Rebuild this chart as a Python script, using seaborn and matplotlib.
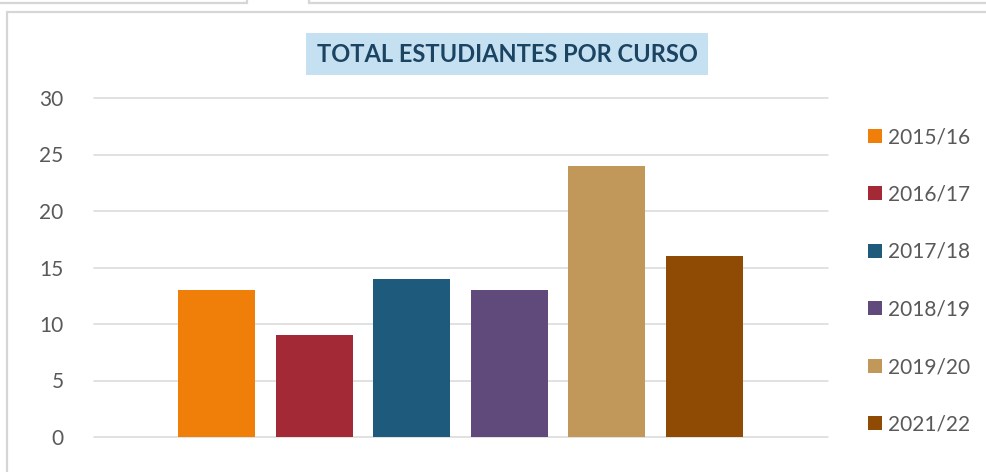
import matplotlib
matplotlib.use("Agg")
import matplotlib.pyplot as plt
from matplotlib.patches import Patch, Rectangle
from matplotlib.lines import Line2D
import seaborn as sns
import pandas as pd

# Data
courses = ["2015/16", "2016/17", "2017/18", "2018/19", "2019/20", "2021/22"]
students = [13, 9, 14, 13, 24, 16]
colors = ["#F07F09", "#A32937", "#1E5A7C", "#604A7B", "#C1975A", "#8F4B03"]
y_ticks = [0, 5, 10, 15, 20, 25, 30]
title = "TOTAL ESTUDIANTES POR CURSO"

sns.set_theme(style="white")
plt.rcParams["font.family"] = ["Lato", "DejaVu Sans"]

W, H = 986, 472
fig = plt.figure(figsize=(W / 100, H / 100), dpi=100)
fig.patch.set_facecolor("white")

def fx(px):
    return px / W

def fy(py):
    return 1 - py / H

# Window frame lines along the top and left
frame = "#D6D6D6"
for xs, ys in [
    ([0, 247], [3, 3]), ([247, 247], [0, 3]),
    ([309, 986], [3, 3]), ([309, 309], [0, 3]),
    ([6.5, 986], [12, 12]), ([6.5, 6.5], [12, 472]),
]:
    fig.add_artist(Line2D([fx(x) for x in xs], [fy(y) for y in ys],
                          color=frame, lw=1.6, transform=fig.transFigure))

ax = fig.add_axes([fx(94), fy(437), fx(828) - fx(94), fy(98) - fy(437)])

df = pd.DataFrame({"curso": courses, "estudiantes": students})
sns.barplot(data=df, x="curso", y="estudiantes", hue="curso",
            palette=colors, saturation=1, width=0.79, legend=False,
            linewidth=0, edgecolor="none", ax=ax)

ax.set_xlim(-1.255, 6.265)
ax.set_ylim(0, 30)
ax.set_yticks(y_ticks)
ax.set_yticklabels([str(t) for t in y_ticks])
ax.set_xticks([])
ax.set_xlabel("")
ax.set_ylabel("")
ax.yaxis.grid(True, color="#D9D9D9", lw=1.1)
ax.set_axisbelow(True)
for s in ax.spines.values():
    s.set_visible(False)
ax.tick_params(axis="y", length=0, pad=22, labelsize=15, labelcolor="#595959")
for gl in ax.get_ygridlines():
    gl.set_clip_on(False)

# Legend
handles = [Patch(facecolor=c, edgecolor="none") for c in colors]
leg = fig.legend(handles, courses, loc="upper left",
                 bbox_to_anchor=(fx(868), fy(127)), frameon=False,
                 fontsize=15, labelcolor="#595959",
                 handlelength=0.68, handleheight=0.68, handletextpad=0.3,
                 labelspacing=1.8, borderpad=0, borderaxespad=0)

# Title in a shaded box
fig.add_artist(Rectangle((fx(306), fy(75)), fx(708) - fx(306), fy(33) - fy(75),
                         facecolor="#C5E0F0", edgecolor="none",
                         transform=fig.transFigure))
fig.text(fx(507), fy(55), title, ha="center", va="center",
         fontsize=17, fontweight="bold", color="#1B4463")

fig.savefig("out.png", dpi=100)
